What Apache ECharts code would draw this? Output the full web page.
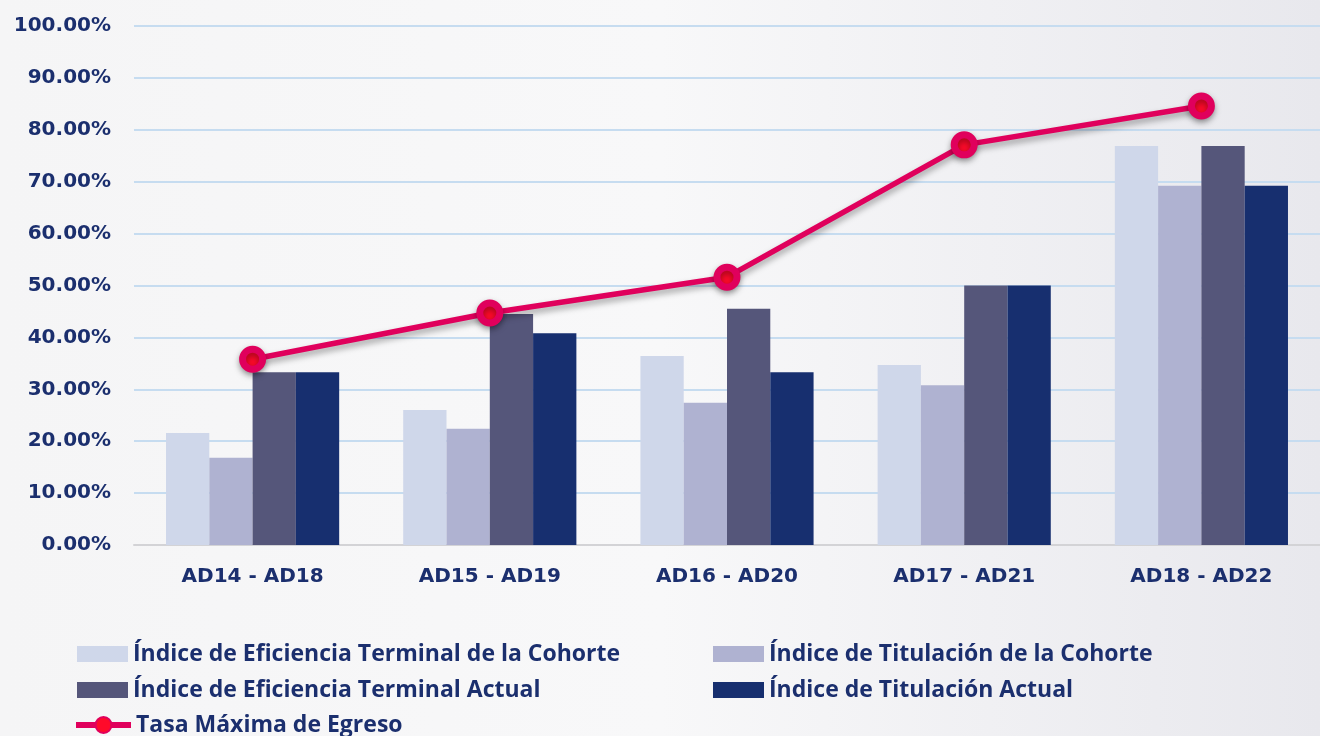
<!DOCTYPE html>
<html>
<head>
<meta charset="utf-8">
<script src="https://cdn.jsdelivr.net/npm/echarts@6/dist/echarts.min.js"></script>
<style>
html,body{margin:0;padding:0;}
#chart{width:1320px;height:736px;}
</style>
</head>
<body>
<div id="chart"></div>
<script>
const categories = ['AD14 - AD18','AD15 - AD19','AD16 - AD20','AD17 - AD21','AD18 - AD22'];
const seriesNames = [
  'Índice de Eficiencia Terminal de la Cohorte',
  'Índice de Titulación de la Cohorte',
  'Índice de Eficiencia Terminal Actual',
  'Índice de Titulación Actual',
  'Tasa Máxima de Egreso'
];
const efCohorte   = [21.6, 26.0, 36.4, 34.7, 76.9];
const titCohorte  = [16.8, 22.4, 27.4, 30.8, 69.2];
const efActual    = [33.3, 44.5, 45.5, 50.0, 76.9];
const titActual   = [33.3, 40.8, 33.3, 50.0, 69.2];
const tasaMaxima  = [35.8, 44.7, 51.6, 77.1, 84.6];
const yTicks = [0,10,20,30,40,50,60,70,80,90,100];

const colors = ['#cfd7ea','#afb2d1','#55567a','#172f6f'];
const textColor = '#1b2f6e';

const chart = echarts.init(document.getElementById('chart'));
const barData = [efCohorte, titCohorte, efActual, titActual];
const series = barData.map((d,i)=>({
  name: seriesNames[i], type:'bar', data:d, barGap:'0%', barCategoryGap:'27%',
  itemStyle:{color:colors[i]}, z:2
}));
series.push({
  name: seriesNames[4], type:'line', data:tasaMaxima, z:5,
  symbol:'circle', symbolSize:20,
  lineStyle:{color:'#e0005c', width:5.5, shadowColor:'rgba(0,0,0,0.35)', shadowBlur:6, shadowOffsetY:4},
  itemStyle:{color:'#ff0a2a', borderColor:'#e0005c', borderWidth:7, shadowColor:'rgba(0,0,0,0.35)', shadowBlur:6, shadowOffsetY:3}
});

const legendText = {color:textColor, fontFamily:'Open Sans', fontWeight:'bold', fontSize:23, lineHeight:24};
function lg(name, left, centerY, opts){
  return Object.assign({left:left, top:centerY-12, padding:0, orient:'horizontal',
    itemWidth:51, itemHeight:16, icon:'rect', data:[name], textStyle:legendText, selectedMode:false}, opts||{});
}
chart.setOption({
  backgroundColor:{type:'linear', x:0, y:0, x2:1, y2:0, colorStops:[
    {offset:0,color:'#f5f5f6'},{offset:0.5,color:'#f8f8f9'},{offset:1,color:'#e8e8ed'}]},
  animation:false,
  grid:{left:134, right:-6, top:26, bottom:191, containLabel:false},
  xAxis:{type:'category', data:categories,
    axisLine:{lineStyle:{color:'#d3d3d6', width:2}}, axisTick:{show:false},
    axisLabel:{color:textColor, fontFamily:'DejaVu Sans', fontWeight:'bold', fontSize:20, margin:22}},
  yAxis:{type:'value', min:yTicks[0], max:yTicks[yTicks.length-1], interval:10,
    axisLine:{show:false}, axisTick:{show:false},
    splitLine:{lineStyle:{color:'#c6dcf0', width:2}},
    axisLabel:{color:textColor, fontFamily:'DejaVu Sans', fontWeight:'bold', fontSize:20, margin:23,
      formatter:v=>v.toFixed(2)+'%'}},
  legend:[
    lg(seriesNames[0], 77, 654),
    lg(seriesNames[2], 77, 690),
    lg(seriesNames[4], 73, 725, {icon:null, itemWidth:55, itemHeight:20, lineStyle:{width:6}}),
    lg(seriesNames[1], 713, 654, {itemWidth:51}),
    lg(seriesNames[3], 713, 690, {itemWidth:51})
  ],
  series:series
});
</script>
</body>
</html>
